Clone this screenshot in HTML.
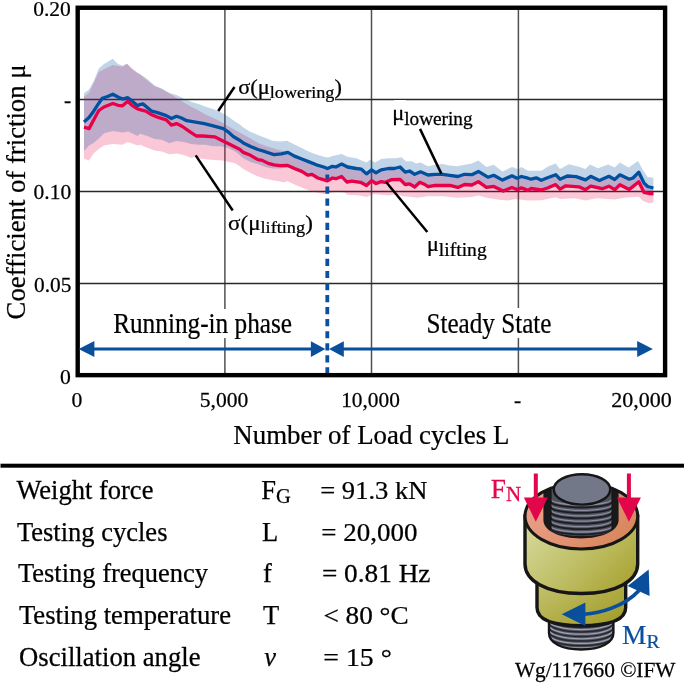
<!DOCTYPE html>
<html><head><meta charset="utf-8"><style>
html,body{margin:0;padding:0;background:#fff;}
body{width:685px;height:684px;overflow:hidden;font-family:"Liberation Serif",serif;}
svg{display:block;will-change:transform;filter:blur(0.4px);}
</style></head><body>
<svg width="685" height="684" viewBox="0 0 685 684"><defs><linearGradient id="olive" x1="0" y1="0.15" x2="1" y2="0.85"><stop offset="0" stop-color="#d6d89a"/><stop offset="0.5" stop-color="#c0c068"/><stop offset="1" stop-color="#a8a232"/></linearGradient><linearGradient id="olive2" x1="0" y1="0" x2="1" y2="1"><stop offset="0" stop-color="#c6c676"/><stop offset="1" stop-color="#a09a22"/></linearGradient><linearGradient id="salmon" x1="0" y1="0" x2="1" y2="0.6"><stop offset="0" stop-color="#eea494"/><stop offset="1" stop-color="#d8885e"/></linearGradient></defs><rect width="685" height="684" fill="#fff"/><line x1="224.9" y1="8" x2="224.9" y2="375" stroke="#505050" stroke-width="1.5"/><line x1="371.5" y1="8" x2="371.5" y2="375" stroke="#505050" stroke-width="1.5"/><line x1="518.4" y1="8" x2="518.4" y2="375" stroke="#505050" stroke-width="1.5"/><line x1="78" y1="99.5" x2="665" y2="99.5" stroke="#282828" stroke-width="1.5"/><line x1="78" y1="191.5" x2="665" y2="191.5" stroke="#282828" stroke-width="1.5"/><line x1="78" y1="283.4" x2="665" y2="283.4" stroke="#282828" stroke-width="1.5"/><polygon points="84.0,96.5 89.0,93.0 93.5,83.3 98.8,72.0 104.0,69.3 112.8,64.9 122.5,66.7 127.0,63.7 137.4,72.8 140.0,74.6 147.3,80.5 154.6,86.3 161.9,89.2 169.2,92.9 176.5,98.0 183.9,102.4 191.2,106.8 198.5,110.4 205.8,114.8 213.1,117.7 220.4,121.4 227.7,125.8 236.0,130.5 243.3,134.5 250.6,138.5 257.9,142.9 265.2,145.8 272.5,148.0 279.9,150.2 287.2,151.7 294.5,156.6 301.8,159.5 309.1,162.4 316.4,165.3 323.7,167.5 327.4,169.0 332.5,166.8 335.8,167.5 341.7,164.6 347.5,167.5 356.3,169.0 361.4,169.7 366.5,174.4 371.6,170.4 376.0,173.3 381.1,170.4 388.4,169.0 394.2,169.0 400.1,167.5 405.2,172.6 409.6,171.5 414.7,174.8 420.5,172.3 428.0,175.5 435.3,174.8 442.6,174.8 449.9,175.8 457.9,177.0 464.5,174.8 471.8,175.2 478.4,171.9 487.9,177.7 493.7,175.8 502.5,180.6 511.9,176.3 517.0,178.7 521.4,177.0 528.0,178.7 531.1,179.7 536.2,178.3 541.3,180.8 547.5,178.3 555.7,175.2 560.0,179.7 567.3,176.5 576.1,177.1 585.5,180.4 590.7,176.8 599.4,180.9 608.9,176.8 614.7,180.0 619.9,175.3 629.3,179.7 633.0,178.5 638.8,172.7 643.9,183.3 647.6,187.0 653.4,188.5 653.4,202.6 649.0,203.3 643.2,201.1 638.8,196.7 625.7,197.4 614.7,199.6 596.5,198.2 585.5,200.4 574.6,198.2 560.0,198.9 555.7,197.2 541.3,200.3 528.0,200.6 515.6,199.1 508.3,200.6 501.0,199.9 486.4,197.7 478.4,195.5 471.8,196.9 457.2,197.7 442.6,196.2 428.0,196.2 417.6,197.7 411.8,196.9 403.0,196.2 395.7,194.3 388.4,195.5 381.1,194.7 373.8,194.0 366.5,196.9 359.2,195.5 347.5,194.7 344.6,192.5 337.3,191.5 330.0,193.0 323.7,194.1 316.4,192.6 309.1,190.4 301.8,187.5 294.5,184.6 287.2,180.9 284.2,182.4 279.9,181.6 272.5,180.2 265.2,178.7 257.9,176.5 250.6,172.9 243.3,169.0 240.0,166.5 235.0,163.2 225.0,160.9 220.0,160.3 210.0,159.7 200.0,158.5 195.0,156.5 191.2,158.0 183.9,155.0 176.5,153.6 169.2,154.3 161.9,151.4 154.6,150.6 147.3,147.7 140.0,144.8 137.4,145.6 127.8,142.1 122.5,144.7 112.8,143.9 104.0,145.6 98.8,149.1 93.5,153.5 89.0,160.5 84.0,158.8" fill="#e80048" fill-opacity="0.22"/><polygon points="84.0,93.0 89.0,89.5 93.5,81.6 98.8,68.4 104.0,64.0 112.8,58.8 118.0,64.0 122.5,65.8 127.0,63.7 132.0,69.3 137.4,72.8 140.0,73.9 147.3,79.0 154.6,85.6 161.9,88.5 169.2,92.9 176.5,95.1 183.9,98.7 191.2,101.7 198.5,103.9 205.8,106.8 213.1,109.0 220.4,111.9 227.7,116.3 235.0,121.4 240.0,124.5 243.3,127.5 250.6,131.9 257.9,134.9 265.2,137.8 272.5,140.7 279.9,141.4 287.2,140.7 294.5,144.4 301.8,148.0 309.1,151.7 316.4,154.6 323.7,156.8 328.1,157.5 332.5,156.1 335.8,155.3 341.7,153.9 347.5,156.8 356.3,158.2 366.5,162.6 370.1,159.7 375.3,162.6 381.1,159.0 388.4,158.2 395.7,158.2 401.5,157.2 405.9,161.2 411.8,161.2 416.1,163.4 420.5,162.6 428.0,166.3 435.3,164.8 442.6,164.1 449.9,165.5 457.2,166.3 464.5,164.8 471.8,163.4 478.4,160.4 486.4,167.0 493.7,164.8 502.5,171.4 511.9,167.0 518.5,169.2 521.4,167.0 528.0,170.7 541.3,170.7 549.0,166.0 555.7,163.5 560.0,169.0 568.8,164.3 579.0,166.8 585.5,169.0 589.9,164.6 598.0,168.2 608.2,164.6 614.7,167.5 619.9,162.4 628.6,167.5 638.1,161.0 643.2,170.4 647.6,177.0 653.4,177.7 653.4,195.1 649.0,195.1 643.9,193.9 638.8,183.4 629.3,191.0 619.9,186.3 614.7,191.3 608.9,187.8 602.3,190.3 590.7,187.8 585.5,191.3 579.0,188.4 565.8,187.4 560.0,190.7 555.7,186.2 547.5,189.6 541.3,191.6 531.1,190.1 528.0,192.0 521.4,189.5 517.0,191.2 511.9,189.0 503.2,192.7 493.7,188.0 486.4,189.0 478.4,183.2 471.8,186.6 464.5,186.1 457.9,189.0 449.9,186.9 442.6,187.1 435.3,186.9 428.0,188.3 424.9,186.1 419.8,183.9 414.7,188.6 409.6,185.4 405.2,186.1 400.1,181.0 391.3,181.3 385.5,183.9 381.1,183.2 376.0,185.1 371.6,182.2 366.5,187.1 360.7,183.9 351.9,182.8 346.8,183.6 341.7,178.1 335.8,180.3 332.5,179.6 327.4,182.5 317.9,179.6 312.0,175.9 307.6,176.7 301.8,173.0 294.5,170.1 287.2,167.0 279.9,168.5 272.5,168.5 265.2,167.0 257.9,164.1 250.6,162.0 243.3,158.2 236.0,152.0 227.7,147.7 220.4,146.3 213.1,146.3 205.8,144.8 198.5,144.8 191.2,144.1 183.9,141.9 176.5,141.1 169.2,143.3 161.9,139.7 154.6,139.0 147.3,136.0 140.0,133.8 137.4,136.0 128.6,131.6 122.5,132.5 112.8,131.0 104.0,133.3 98.8,138.6 93.5,143.0 89.0,145.6 84.0,150.9" fill="#0050a0" fill-opacity="0.24"/><line x1="327.3" y1="174.5" x2="327.3" y2="375" stroke="#0a50a0" stroke-width="3.8" stroke-dasharray="7.2 4.85"/><polyline points="84.0,121.9 89.0,117.5 93.5,111.4 98.0,104.4 102.3,98.2 107.6,96.5 112.8,94.2 118.0,97.0 122.5,99.1 127.8,97.7 132.0,100.9 137.4,105.8 140.0,104.6 142.9,103.9 147.3,107.5 151.7,111.2 157.5,112.6 166.3,115.6 171.4,118.5 176.5,116.3 180.9,117.7 186.8,120.7 195.6,122.1 204.3,123.6 213.1,125.8 223.3,128.7 227.7,131.6 233.6,136.8 240.0,140.5 243.3,142.9 250.6,146.5 257.9,149.5 265.2,151.7 274.0,154.6 281.3,153.9 287.9,152.4 294.5,156.1 301.8,159.0 309.1,161.9 316.4,164.8 323.7,167.0 327.4,168.5 332.5,166.3 335.8,167.0 341.7,164.1 347.5,167.0 356.3,168.5 361.4,169.2 366.5,173.9 371.6,169.9 376.0,172.8 381.1,169.9 388.4,168.5 394.2,168.5 400.1,167.0 405.2,172.1 409.6,171.0 414.7,174.3 420.5,171.8 428.0,175.0 435.3,174.3 442.6,174.3 449.9,175.3 457.9,176.5 464.5,174.3 471.8,174.7 478.4,171.4 487.9,177.2 493.7,175.3 502.5,180.1 511.9,175.8 517.0,178.2 521.4,176.5 528.0,178.2 531.1,179.2 536.2,177.8 541.3,180.3 547.5,177.8 555.7,174.7 560.0,179.2 567.3,176.0 576.1,176.6 585.5,179.9 590.7,176.3 599.4,180.4 608.9,176.3 614.7,179.5 619.9,174.8 629.3,179.2 633.0,178.0 638.8,172.2 643.9,182.8 647.6,186.5 653.4,188.0" fill="none" stroke="#0050a0" stroke-width="3.3" stroke-linejoin="round"/><polyline points="84.0,127.2 89.0,128.6 93.5,120.2 98.8,110.5 104.0,107.0 112.8,103.5 118.0,105.3 122.5,105.8 127.8,101.2 132.0,105.3 137.4,108.8 140.0,109.7 145.8,111.2 151.7,114.8 159.0,117.7 166.3,119.9 171.4,125.1 176.5,123.6 182.4,126.5 189.7,131.6 196.3,136.0 202.9,136.0 214.6,136.8 221.9,140.4 227.7,143.3 233.6,146.3 240.0,149.5 243.3,152.4 250.6,155.3 257.9,159.7 262.3,160.4 268.2,163.4 274.0,164.8 279.9,165.6 287.2,165.3 294.5,168.5 301.8,171.4 307.6,175.1 312.0,174.3 317.9,178.0 327.4,180.9 332.5,178.0 335.8,178.7 341.7,176.5 346.8,182.0 351.9,181.2 360.7,182.3 366.5,185.5 371.6,180.6 376.0,183.5 381.1,181.6 385.5,182.3 391.3,179.7 400.1,179.4 405.2,184.5 409.6,183.8 414.7,187.0 419.8,182.3 424.9,184.5 428.0,186.7 435.3,185.3 442.6,185.5 449.9,185.3 457.9,187.4 464.5,184.5 471.8,185.0 478.4,181.6 486.4,187.4 493.7,186.4 503.2,191.1 511.9,187.4 517.0,189.6 521.4,187.9 528.0,190.4 531.1,188.5 541.3,190.0 547.5,188.0 555.7,184.6 560.0,189.1 565.8,185.8 579.0,186.8 585.5,189.7 590.7,186.2 602.3,188.7 608.9,186.2 614.7,189.7 619.9,184.7 629.3,189.4 638.8,181.8 643.9,192.3 649.0,193.5 653.4,193.5" fill="none" stroke="#e80048" stroke-width="3.3" stroke-linejoin="round"/><rect x="77.7" y="7.75" width="587.4" height="367.4" fill="none" stroke="#000" stroke-width="4.4"/><line x1="90" y1="349" x2="315" y2="349" stroke="#0a4f9c" stroke-width="3"/><polygon points="78.6,349 94.4,341.1 94.4,356.9" fill="#0a4f9c"/><polygon points="325.4,349 310.9,341.2 310.9,356.9" fill="#0a4f9c"/><line x1="340" y1="349" x2="640" y2="349" stroke="#0a4f9c" stroke-width="3"/><polygon points="329,349 343.8,341.2 343.8,356.9" fill="#0a4f9c"/><polygon points="652.8,349 637.2,341 637.2,357" fill="#0a4f9c"/><line x1="218.2" y1="111" x2="234.5" y2="87" stroke="#000" stroke-width="2.5"/><line x1="195.7" y1="155.4" x2="232.7" y2="210.5" stroke="#000" stroke-width="2.5"/><line x1="420" y1="128.9" x2="441.3" y2="173.6" stroke="#000" stroke-width="2.5"/><line x1="386.1" y1="182" x2="427.3" y2="232" stroke="#000" stroke-width="2.5"/><g font-family='"Liberation Serif", serif'><rect x="108" y="309" width="188" height="29" fill="#fff"/><rect x="424" y="308" width="131" height="30" fill="#fff"/><rect x="271" y="86" width="64" height="16" fill="#fff"/><rect x="394" y="100" width="12" height="14" fill="#fff"/><text transform="translate(33.16,15.9) scale(0.9918,1)" font-size="21.7" fill="#000" stroke="#000" stroke-width="0.25">0.20</text><text transform="translate(63.93,107.4)" font-size="21.7" fill="#000" stroke="#000" stroke-width="0.25">-</text><text transform="translate(33.56,199.4) scale(0.9890,1)" font-size="21.7" fill="#000" stroke="#000" stroke-width="0.25">0.10</text><text transform="translate(33.96,291.6) scale(0.9848,1)" font-size="21.7" fill="#000" stroke="#000" stroke-width="0.25">0.05</text><text transform="translate(60.08,383.5)" font-size="21.7" fill="#000" stroke="#000" stroke-width="0.25">0</text><text transform="translate(71.62,406.5)" font-size="21.7" fill="#000" stroke="#000" stroke-width="0.25">0</text><text transform="translate(199.76,406.5) scale(0.9947,1)" font-size="21.7" fill="#000" stroke="#000" stroke-width="0.25">5,000</text><text transform="translate(341.13,406.9) scale(0.9850,1)" font-size="21.7" fill="#000" stroke="#000" stroke-width="0.25">10,000</text><text transform="translate(513.97,406.5)" font-size="21.7" fill="#000" stroke="#000" stroke-width="0.25">-</text><text transform="translate(611.19,406.5) scale(1.0147,1)" font-size="21.7" fill="#000" stroke="#000" stroke-width="0.25">20,000</text><text transform="translate(233.35,443.5) scale(0.9953,1)" font-size="27" fill="#000" stroke="#000" stroke-width="0.25">Number of Load cycles L</text><text transform="translate(113.13,332.5) scale(0.8870,1)" font-size="28.5" fill="#000" stroke="#000" stroke-width="0.25">Running-in phase</text><text transform="translate(426.43,332.8) scale(0.8836,1)" font-size="28.5" fill="#000" stroke="#000" stroke-width="0.25">Steady State</text><text transform="translate(238.22,93.5) scale(1.0408,1)" font-size="21.5" fill="#000" stroke="#000" stroke-width="0.25">σ(μ<tspan font-size="17.5" dy="4.2">lowering</tspan><tspan dy="-4.2">)</tspan></text><text transform="translate(228.12,229.7) scale(1.0448,1)" font-size="22" fill="#000" stroke="#000" stroke-width="0.25">σ(μ<tspan font-size="17.5" dy="3.3">lifting</tspan><tspan dy="-3.3">)</tspan></text><text transform="translate(392.16,120.1) scale(1.0519,1)" font-size="21.3" fill="#000" stroke="#000" stroke-width="0.25">μ<tspan font-size="18.3" dy="5.3">lowering</tspan></text><text transform="translate(426.98,251.3) scale(1.0407,1)" font-size="21.3" fill="#000" stroke="#000" stroke-width="0.25">μ<tspan font-size="18.8" dy="5">lifting</tspan></text><text transform="translate(16.40,499) scale(0.9827,1)" font-size="27" fill="#000" stroke="#000" stroke-width="0.25">Weight force</text><text transform="translate(16.91,541) scale(0.9825,1)" font-size="27" fill="#000" stroke="#000" stroke-width="0.25">Testing cycles</text><text transform="translate(17.91,582) scale(0.9816,1)" font-size="27" fill="#000" stroke="#000" stroke-width="0.25">Testing frequency</text><text transform="translate(18.91,624) scale(0.9876,1)" font-size="27" fill="#000" stroke="#000" stroke-width="0.25">Testing temperature</text><text transform="translate(19.01,665.8) scale(0.9887,1)" font-size="27" fill="#000" stroke="#000" stroke-width="0.25">Oscillation angle</text><text transform="translate(261.15,499)" font-size="26.5" fill="#000" stroke="#000" stroke-width="0.25">F<tspan font-size="20.5" dy="3.5">G</tspan></text><text transform="translate(262.02,541)" font-size="26.5" fill="#000" stroke="#000" stroke-width="0.25">L</text><text transform="translate(262.95,582)" font-size="26.5" fill="#000" stroke="#000" stroke-width="0.25">f</text><text transform="translate(263.07,624)" font-size="26.5" fill="#000" stroke="#000" stroke-width="0.25">T</text><text transform="translate(264.27,665.8)" font-size="26.5" fill="#000" stroke="#000" stroke-width="0.25"><tspan font-style="italic">ν</tspan></text><text transform="translate(320.21,499) scale(1.0308,1)" font-size="25.8" fill="#000" stroke="#000" stroke-width="0.25">= 91.3 kN</text><text transform="translate(321.29,541) scale(1.0474,1)" font-size="25.8" fill="#000" stroke="#000" stroke-width="0.25">= 20,000</text><text transform="translate(321.88,582) scale(1.0581,1)" font-size="25.8" fill="#000" stroke="#000" stroke-width="0.25">= 0.81 Hz</text><text transform="translate(323.38,624) scale(1.0551,1)" font-size="25.8" fill="#000" stroke="#000" stroke-width="0.25">&lt; 80 °C</text><text transform="translate(323.35,665.8) scale(1.0770,1)" font-size="25.8" fill="#000" stroke="#000" stroke-width="0.25">= 15 °</text><text transform="translate(514.90,677) scale(0.9929,1)" font-size="21.5" fill="#000" stroke="#000" stroke-width="0.25">Wg/117660 ©IFW</text><text transform="translate(25,191.9) rotate(-90) scale(0.99,1)" font-size="27" text-anchor="middle" stroke="#000" stroke-width="0.25">Coefficient of friction μ</text></g><clipPath id="bt"><path d="M549 612 L549 633 C549 643 562 649.5 581.2 649.5 C600.4 649.5 613.4 643 613.4 633 L613.4 612 Z"/></clipPath><path d="M549 612 L549 633 C549 643 562 649.5 581.2 649.5 C600.4 649.5 613.4 643 613.4 633 L613.4 612 Z" fill="#555764"/><g clip-path="url(#bt)"><path d="M549 616.0 A32.2 9 0 0 0 613.4 616.0" fill="none" stroke="#9ea2b2" stroke-width="1.3"/><path d="M549 618.3 A32.2 9 0 0 0 613.4 618.3" fill="none" stroke="#26262c" stroke-width="1.5"/><path d="M549 620.6 A32.2 9 0 0 0 613.4 620.6" fill="none" stroke="#9ea2b2" stroke-width="1.3"/><path d="M549 622.9 A32.2 9 0 0 0 613.4 622.9" fill="none" stroke="#26262c" stroke-width="1.5"/><path d="M549 625.2 A32.2 9 0 0 0 613.4 625.2" fill="none" stroke="#9ea2b2" stroke-width="1.3"/><path d="M549 627.5 A32.2 9 0 0 0 613.4 627.5" fill="none" stroke="#26262c" stroke-width="1.5"/><path d="M549 629.8 A32.2 9 0 0 0 613.4 629.8" fill="none" stroke="#9ea2b2" stroke-width="1.3"/><path d="M549 632.1 A32.2 9 0 0 0 613.4 632.1" fill="none" stroke="#26262c" stroke-width="1.5"/><path d="M549 634.4 A32.2 9 0 0 0 613.4 634.4" fill="none" stroke="#9ea2b2" stroke-width="1.3"/><path d="M549 636.7 A32.2 9 0 0 0 613.4 636.7" fill="none" stroke="#26262c" stroke-width="1.5"/><path d="M549 639.0 A32.2 9 0 0 0 613.4 639.0" fill="none" stroke="#9ea2b2" stroke-width="1.3"/><path d="M549 641.3 A32.2 9 0 0 0 613.4 641.3" fill="none" stroke="#26262c" stroke-width="1.5"/><path d="M549 643.6 A32.2 9 0 0 0 613.4 643.6" fill="none" stroke="#9ea2b2" stroke-width="1.3"/><path d="M549 645.9 A32.2 9 0 0 0 613.4 645.9" fill="none" stroke="#26262c" stroke-width="1.5"/><path d="M549 648.2 A32.2 9 0 0 0 613.4 648.2" fill="none" stroke="#9ea2b2" stroke-width="1.3"/><path d="M549 650.5 A32.2 9 0 0 0 613.4 650.5" fill="none" stroke="#26262c" stroke-width="1.5"/></g><path d="M549 612 L549 633 C549 643 562 649.5 581.2 649.5 C600.4 649.5 613.4 643 613.4 633 L613.4 612" fill="none" stroke="#161616" stroke-width="2.4"/><path d="M537 575 L537 607.5 C537 618.5 550 625.6 581.35 625.6 C612.7 625.6 625.7 618.5 625.7 607.5 L625.7 575 Z" fill="url(#olive2)" stroke="#161616" stroke-width="3.4"/><path d="M525 516 L525 564 C525 580 545 593.5 581.35 593.5 C617.7 593.5 637.7 580 637.7 564 L637.7 516 Z" fill="url(#olive)" stroke="#161616" stroke-width="3.4"/><clipPath id="ringc"><ellipse cx="581.35" cy="516" rx="56.35" ry="33"/></clipPath><ellipse cx="581.35" cy="516" rx="56.35" ry="33" fill="url(#salmon)"/><path clip-path="url(#ringc)" d="M543.4 480 L543.4 520 C543.4 531 560 538.4 580.8 538.4 C601.6 538.4 618.6 531 618.6 520 L618.6 480 Z" fill="#19191b"/><ellipse cx="581.35" cy="516" rx="56.35" ry="33" fill="none" stroke="#161616" stroke-width="3"/><clipPath id="tt"><path d="M550.8 489 L550.8 529 A30.7 7 0 0 0 612.2 529 L612.2 489 Z"/></clipPath><path d="M550.8 489 L550.8 529 A30.7 7 0 0 0 612.2 529 L612.2 489 Z" fill="#4e505c"/><g clip-path="url(#tt)"><path d="M550.8 499.0 A30.7 6 0 0 0 612.2 499.0" fill="none" stroke="#8a8e9e" stroke-width="1.3"/><path d="M550.8 501.5 A30.7 6 0 0 0 612.2 501.5" fill="none" stroke="#1c1c22" stroke-width="1.8"/><path d="M550.8 504.4 A30.7 6 0 0 0 612.2 504.4" fill="none" stroke="#8a8e9e" stroke-width="1.3"/><path d="M550.8 506.9 A30.7 6 0 0 0 612.2 506.9" fill="none" stroke="#1c1c22" stroke-width="1.8"/><path d="M550.8 509.8 A30.7 6 0 0 0 612.2 509.8" fill="none" stroke="#8a8e9e" stroke-width="1.3"/><path d="M550.8 512.3 A30.7 6 0 0 0 612.2 512.3" fill="none" stroke="#1c1c22" stroke-width="1.8"/><path d="M550.8 515.2 A30.7 6 0 0 0 612.2 515.2" fill="none" stroke="#8a8e9e" stroke-width="1.3"/><path d="M550.8 517.7 A30.7 6 0 0 0 612.2 517.7" fill="none" stroke="#1c1c22" stroke-width="1.8"/><path d="M550.8 520.6 A30.7 6 0 0 0 612.2 520.6" fill="none" stroke="#8a8e9e" stroke-width="1.3"/><path d="M550.8 523.1 A30.7 6 0 0 0 612.2 523.1" fill="none" stroke="#1c1c22" stroke-width="1.8"/><path d="M550.8 526.0 A30.7 6 0 0 0 612.2 526.0" fill="none" stroke="#8a8e9e" stroke-width="1.3"/><path d="M550.8 528.5 A30.7 6 0 0 0 612.2 528.5" fill="none" stroke="#1c1c22" stroke-width="1.8"/><path d="M550.8 531.4 A30.7 6 0 0 0 612.2 531.4" fill="none" stroke="#8a8e9e" stroke-width="1.3"/><path d="M550.8 533.9 A30.7 6 0 0 0 612.2 533.9" fill="none" stroke="#1c1c22" stroke-width="1.8"/></g><path d="M550.8 489 L550.8 529 M612.2 489 L612.2 529" fill="none" stroke="#161616" stroke-width="1.6"/><ellipse cx="582" cy="489.4" rx="28.2" ry="15.2" fill="#737888" stroke="#161616" stroke-width="2.4"/><rect x="533.8" y="473.5" width="4" height="25" fill="#e2064a"/><polygon points="523.8,497.5 547.8,497.5 535.8,521.7" fill="#e2064a"/><rect x="626.9" y="473.5" width="4" height="25" fill="#e2064a"/><polygon points="616.9,497.5 640.9,497.5 628.9,521.7" fill="#e2064a"/><g font-family='"Liberation Serif", serif'><text transform="translate(490.87,497.5) scale(0.9748,1)" font-size="28" fill="#e2064a" stroke="#e2064a" stroke-width="0.25">F<tspan font-size="21.5" dy="3.8">N</tspan></text></g><path d="M584 614.2 C600 613.5 625 606 639 590.5" fill="none" stroke="#0a4f9c" stroke-width="3.6"/><polygon points="561.7,614.3 585.4,602.5 585.4,626" fill="#0a4f9c"/><polygon points="648.7,569.6 627.6,585.9 649.6,596" fill="#0a4f9c"/><g font-family='"Liberation Serif", serif'><text transform="translate(622.04,643.6) scale(1.0152,1)" font-size="27" fill="#0a4f9c" stroke="#0a4f9c" stroke-width="0.25">M<tspan font-size="19.5" dy="3.9">R</tspan></text></g><rect x="0.5" y="463.7" width="683.5" height="4" fill="#000"/></svg>
</body></html>
